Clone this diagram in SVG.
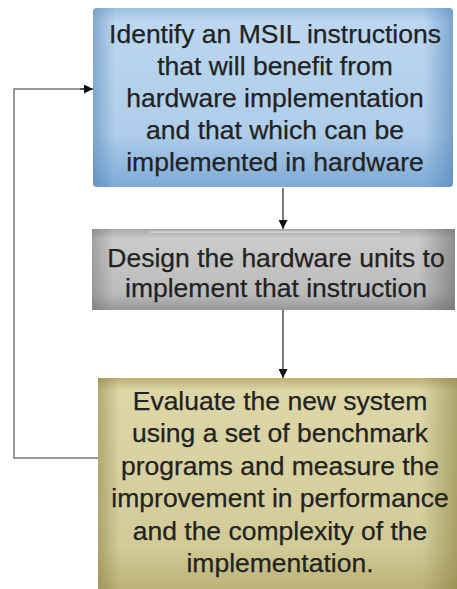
<svg xmlns="http://www.w3.org/2000/svg" width="457" height="589" viewBox="0 0 457 589">
<style>
  text { font-family: "Liberation Sans", Arial, sans-serif; font-size: 26.5px; fill: #222; stroke: #222; stroke-width: 0.25; text-anchor: middle; }
  .conn { fill: none; stroke: #333; stroke-width: 1.3; }
  .loop { fill: none; stroke: #777; stroke-width: 1.5; }
</style>
<defs>
  <marker id="ah" viewBox="0 0 10 10" refX="10" refY="5" markerWidth="10" markerHeight="9" orient="auto" markerUnits="userSpaceOnUse">
    <path d="M0,0 L10,5 L0,10 z" fill="#111"/>
  </marker>
  <linearGradient id="blueV" x1="0" y1="0" x2="0" y2="1">
    <stop offset="0" stop-color="#9cbfe0"/>
    <stop offset="0.08" stop-color="#bcd7ef"/>
    <stop offset="0.7" stop-color="#aecde9"/>
    <stop offset="1" stop-color="#7fabd6"/>
  </linearGradient>
  <linearGradient id="blueH" x1="0" y1="0" x2="1" y2="0">
    <stop offset="0" stop-color="#4a7fb4" stop-opacity="0.5"/>
    <stop offset="0.06" stop-color="#4a7fb4" stop-opacity="0"/>
    <stop offset="0.92" stop-color="#4a7fb4" stop-opacity="0"/>
    <stop offset="1" stop-color="#4a7fb4" stop-opacity="0.55"/>
  </linearGradient>
  <linearGradient id="grayV" x1="0" y1="0" x2="0" y2="1">
    <stop offset="0" stop-color="#a8a8a8"/>
    <stop offset="0.12" stop-color="#cbcbcb"/>
    <stop offset="0.8" stop-color="#bbbbbb"/>
    <stop offset="1" stop-color="#979797"/>
  </linearGradient>
  <linearGradient id="grayH" x1="0" y1="0" x2="1" y2="0">
    <stop offset="0" stop-color="#555" stop-opacity="0.35"/>
    <stop offset="0.06" stop-color="#555" stop-opacity="0"/>
    <stop offset="0.9" stop-color="#555" stop-opacity="0"/>
    <stop offset="1" stop-color="#555" stop-opacity="0.5"/>
  </linearGradient>
  <linearGradient id="yelV" x1="0" y1="0" x2="0" y2="1">
    <stop offset="0" stop-color="#b9b174"/>
    <stop offset="0.06" stop-color="#ddd7a8"/>
    <stop offset="0.8" stop-color="#d2cb98"/>
    <stop offset="1" stop-color="#bab278"/>
  </linearGradient>
  <linearGradient id="yelH" x1="0" y1="0" x2="1" y2="0">
    <stop offset="0" stop-color="#7d7434" stop-opacity="0.45"/>
    <stop offset="0.06" stop-color="#7d7434" stop-opacity="0"/>
    <stop offset="0.9" stop-color="#7d7434" stop-opacity="0"/>
    <stop offset="1" stop-color="#7d7434" stop-opacity="0.5"/>
  </linearGradient>
</defs>
<rect width="457" height="589" fill="#ffffff"/>
<g id="connectors">
  <line class="conn" x1="283" y1="188" x2="283" y2="229" marker-end="url(#ah)"/>
  <line class="conn" x1="283" y1="310" x2="283" y2="378" marker-end="url(#ah)"/>
  <polyline class="loop" points="98,458 14,458 14,89 85,89"/>
  <line class="conn" x1="80" y1="89" x2="93" y2="89" marker-end="url(#ah)"/>
</g>
<g id="node-identify">
  <rect x="93" y="8" width="360" height="179" rx="4" fill="url(#blueV)"/>
  <rect x="93" y="8" width="360" height="179" rx="4" fill="url(#blueH)"/>
  <text x="275" y="43">Identify an MSIL instructions</text>
  <text x="275" y="75">that will benefit from</text>
  <text x="275" y="107">hardware implementation</text>
  <text x="275" y="139">and that which can be</text>
  <text x="275" y="171">implemented in hardware</text>
</g>
<g id="node-design">
  <rect x="92" y="229" width="363" height="81" fill="url(#grayV)"/>
  <rect x="92" y="229" width="363" height="81" fill="url(#grayH)"/>
  <line x1="150" y1="232" x2="400" y2="232" stroke="#e6e6e6" stroke-width="1.2"/>
  <text x="276" y="267">Design the hardware units to</text>
  <text x="276" y="297">implement that instruction</text>
</g>
<g id="node-evaluate">
  <rect x="98" y="378" width="359" height="211" fill="url(#yelV)"/>
  <rect x="98" y="378" width="359" height="211" fill="url(#yelH)"/>
  <text x="280" y="410">Evaluate the new system</text>
  <text x="280" y="442">using a set of benchmark</text>
  <text x="280" y="475">programs and measure the</text>
  <text x="280" y="507">improvement in performance</text>
  <text x="280" y="540">and the complexity of the</text>
  <text x="280" y="572">implementation.</text>
</g>
</svg>
